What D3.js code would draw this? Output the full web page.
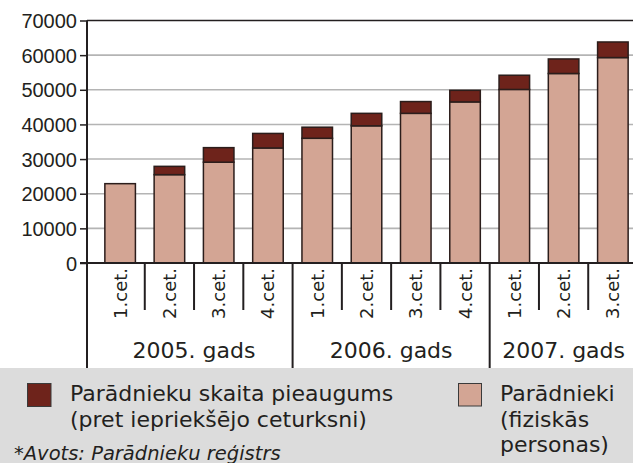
<!DOCTYPE html>
<html>
<head>
<meta charset="utf-8">
<script src="https://cdn.jsdelivr.net/npm/d3@7"></script>
<style>
  body { margin: 0; background: #fff; }
  svg { display: block; font-family: "DejaVu Sans", sans-serif; }
</style>
</head>
<body>
<div id="chart"></div>
<script>
  // data
  var quarterLabels = ["1.cet.", "2.cet.", "3.cet.", "4.cet.", "1.cet.", "2.cet.", "3.cet.", "4.cet.", "1.cet.", "2.cet.", "3.cet."];
  var yearLabels = ["2005. gads", "2006. gads", "2007. gads"];
  var yearOfQuarter = [0, 0, 0, 0, 1, 1, 1, 1, 2, 2, 2];
  var paradnieki = [22900, 25500, 29100, 33200, 36000, 39600, 43200, 46500, 50100, 54700, 59300];
  var pieaugums = [0, 2400, 4200, 4200, 3200, 3600, 3400, 3350, 4100, 4200, 4500];
  var yTicks = [0, 10000, 20000, 30000, 40000, 50000, 60000, 70000];

  var W = 633, H = 463;
  var plotLeft = 87, plotTop = 20.5, zeroY = 263;
  var darkColor = "#6e231b", lightColor = "#d3a594", ink = "#231f20";

  var rows = quarterLabels.map(function(q, i) {
    return { i: i, base: paradnieki[i], inc: pieaugums[i] };
  });

  var x = d3.scaleBand()
    .domain(d3.range(quarterLabels.length))
    .range([95.5, 637.5])
    .paddingInner(0.38)
    .paddingOuter(0.19);

  var y = d3.scaleLinear()
    .domain([0, 70000])
    .range([zeroY, plotTop]);

  var svg = d3.select("#chart").append("svg")
    .attr("width", W)
    .attr("height", H);

  // gridlines
  svg.append("g")
    .selectAll("line")
    .data(yTicks.filter(function(t) { return t > 0 && t < 70000; }))
    .enter().append("line")
    .attr("x1", plotLeft).attr("x2", W)
    .attr("y1", function(d) { return y(d); })
    .attr("y2", function(d) { return y(d); })
    .attr("stroke", "#b4b4b4")
    .attr("stroke-width", 1.6);

  // top border
  svg.append("line")
    .attr("x1", plotLeft).attr("x2", W)
    .attr("y1", y(70000)).attr("y2", y(70000))
    .attr("stroke", ink).attr("stroke-width", 1.5);

  // stacked bars
  var stack = d3.stack().keys(["base", "inc"]);
  var series = stack(rows);
  var fills = [lightColor, darkColor];

  svg.append("g")
    .selectAll("g")
    .data(series)
    .enter().append("g")
    .attr("fill", function(d, i) { return fills[i]; })
    .selectAll("rect")
    .data(function(d) { return d.filter(function(p) { return p[1] > p[0]; }); })
    .enter().append("rect")
    .attr("x", function(d) { return x(d.data.i); })
    .attr("y", function(d) { return y(d[1]); })
    .attr("width", x.bandwidth())
    .attr("height", function(d) { return y(d[0]) - y(d[1]); })
    .attr("stroke", "#2b1d1b")
    .attr("stroke-width", 1.5);

  // y axis
  var yAxis = d3.axisLeft(y).tickValues(yTicks).tickSize(7).tickPadding(3).tickFormat(d3.format("d"));
  var gy = svg.append("g")
    .attr("transform", "translate(" + plotLeft + ",0)")
    .call(yAxis);
  gy.select(".domain").remove();
  gy.selectAll("line").attr("stroke", ink).attr("stroke-width", 1.5);
  gy.selectAll("text").attr("fill", ink).style("font-size", "20px").attr("dy", "0.36em");

  // left axis line down into the category area
  svg.append("line")
    .attr("x1", plotLeft).attr("x2", plotLeft)
    .attr("y1", plotTop).attr("y2", 368)
    .attr("stroke", ink).attr("stroke-width", 2);

  // zero line
  svg.append("line")
    .attr("x1", 80).attr("x2", W)
    .attr("y1", zeroY).attr("y2", zeroY)
    .attr("stroke", ink).attr("stroke-width", 2);

  // separators between quarters / years
  var step = x.step();
  var seps = d3.range(1, quarterLabels.length).map(function(i) {
    return { xs: x(i) - step * x.paddingInner() / 2, year: yearOfQuarter[i] !== yearOfQuarter[i - 1] };
  });
  svg.append("g")
    .selectAll("line")
    .data(seps)
    .enter().append("line")
    .attr("x1", function(d) { return d.xs; })
    .attr("x2", function(d) { return d.xs; })
    .attr("y1", zeroY)
    .attr("y2", function(d) { return d.year ? 368 : 310; })
    .attr("stroke", ink)
    .attr("stroke-width", 2);

  // quarter labels
  svg.append("g")
    .selectAll("text")
    .data(quarterLabels)
    .enter().append("text")
    .attr("transform", function(d, i) {
      return "translate(" + (x(i) + x.bandwidth() / 2) + ",268) rotate(-90)";
    })
    .attr("text-anchor", "end")
    .attr("dy", "0.36em")
    .attr("fill", ink)
    .style("font-size", "18px")
    .text(function(d) { return d; });

  // year labels
  svg.append("g")
    .selectAll("text")
    .data(yearLabels)
    .enter().append("text")
    .attr("x", function(d, k) {
      var idx = d3.range(quarterLabels.length).filter(function(i) { return yearOfQuarter[i] === k; });
      return (x(idx[0]) + x(idx[idx.length - 1]) + x.bandwidth()) / 2;
    })
    .attr("y", 358)
    .attr("text-anchor", "middle")
    .attr("fill", ink)
    .style("font-size", "22px")
    .text(function(d) { return d; });

  // legend area
  svg.append("rect")
    .attr("x", 0).attr("y", 368)
    .attr("width", W).attr("height", H - 368)
    .attr("fill", "#dcdcdc");

  var legend = svg.append("g");
  legend.append("rect")
    .attr("x", 27.5).attr("y", 383.5).attr("width", 23.5).attr("height", 23)
    .attr("fill", darkColor).attr("stroke", "#3a3a3a").attr("stroke-width", 1);
  legend.append("rect")
    .attr("x", 458.5).attr("y", 383.5).attr("width", 23).attr("height", 22.5)
    .attr("fill", lightColor).attr("stroke", "#3a3a3a").attr("stroke-width", 1);

  var leftLines = ["Parādnieku skaita pieaugums", "(pret iepriekšējo ceturksni)"];
  var rightLines = ["Parādnieki", "(fiziskās", "personas)"];

  legend.selectAll("text.l")
    .data(leftLines)
    .enter().append("text")
    .attr("class", "l")
    .attr("x", 70)
    .attr("y", function(d, i) { return 401 + i * 25.5; })
    .attr("fill", ink)
    .style("font-size", "22px")
    .text(function(d) { return d; });

  legend.selectAll("text.r")
    .data(rightLines)
    .enter().append("text")
    .attr("class", "r")
    .attr("x", 500)
    .attr("y", function(d, i) { return 401 + i * 25.5; })
    .attr("fill", ink)
    .style("font-size", "22px")
    .text(function(d) { return d; });

  legend.append("text")
    .attr("x", 14)
    .attr("y", 460)
    .attr("fill", ink)
    .style("font-size", "19.5px")
    .style("font-style", "italic")
    .text("*Avots: Parādnieku reģistrs");
</script>
</body>
</html>
